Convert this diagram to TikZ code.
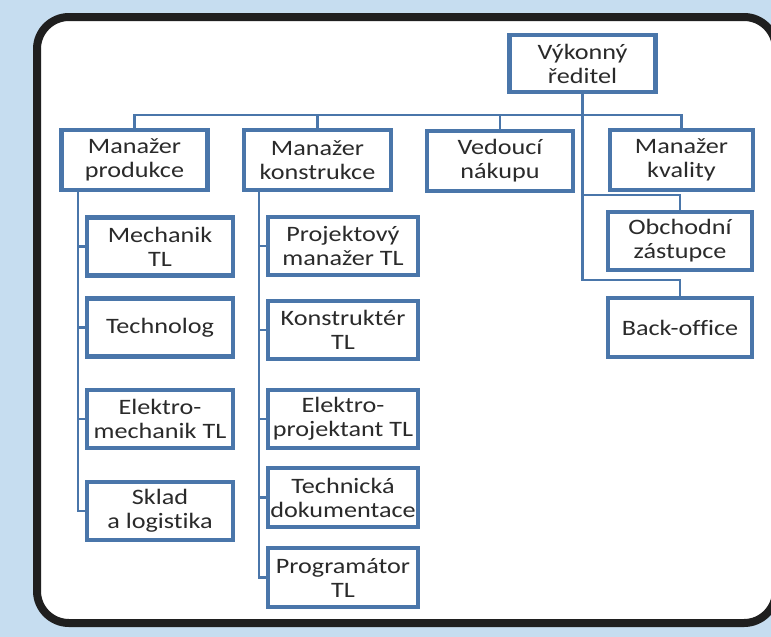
\documentclass[tikz,border=0pt]{standalone}
\usepackage{fontspec}
\setmainfont{Carlito}[FakeStretch=1.19, Ligatures=NoCommon]
\usepackage{xcolor}
\usetikzlibrary{positioning, calc}

\definecolor{bgblue}{RGB}{198,221,240}
\definecolor{boxblue}{RGB}{74,118,170}
\definecolor{txtgray}{RGB}{42,42,42}

\begin{document}
\begin{tikzpicture}[
    x=1pt, y=-1pt,
    font=\fontsize{22}{24}\selectfont,
    topbox/.style={draw=boxblue, line width=4.5pt, fill=white, rectangle, minimum width=146pt, minimum height=60pt, inner sep=0pt, align=center, text=txtgray},
    subbox/.style={draw=boxblue, line width=4.5pt, fill=white, rectangle, minimum width=146pt, minimum height=58pt, inner sep=0pt, align=center, text=txtgray},
    link/.style={draw=boxblue, line width=2.5pt}
]

\useasboundingbox (0,0) rectangle (771,637);
\fill[bgblue] (0,0) rectangle (771,637);
\draw[line width=8pt, fill=white, draw=black!88, rounded corners=32pt] (37,17) rectangle (776,623);

\coordinate (hub) at (582.5,115);
\coordinate (pspine) at (78,190);
\coordinate (kspine) at (259,190);

\draw[link] (hub) -| (134.5,130);
\draw[link] (hub) -| (317.5,130);
\draw[link] (hub) -| (500,130);
\draw[link] (hub) -| (681.5,130);
\draw[link] (582.5,92) -- (582.5,280) -| (680,298);
\draw[link] (582.5,195) -| (680,212);

\node[topbox, minimum height=57pt] (ceo) at (582.5,63.5) {Výkonný\\ředitel};

\node[topbox] (prod) at (134.5,160) {Manažer\\produkce};
\node[topbox, minimum width=147pt] (kons) at (317.5,160) {Manažer\\konstrukce};
\node[topbox] (nakup) at (500,161) {Vedoucí\\nákupu};
\node[topbox, minimum width=143pt] (kval) at (681.5,160) {Manažer\\kvality};

\node[subbox] (mech) at (160,246.5) {Mechanik\\TL};
\node[subbox] (tech) at (160,327.5) {Technolog};
\node[subbox] (elmech) at (160,419) {Elektro-\\mechanik TL};
\node[subbox] (sklad) at (160,511) {Sklad\\a logistika};

\node[subbox, minimum width=150pt] (proj) at (343,246) {Projektový\\manažer TL};
\node[subbox, minimum width=150pt] (konstr) at (343,330) {Konstruktér\\TL};
\node[subbox, minimum width=150pt] (elproj) at (343,419) {Elektro-\\projektant TL};
\node[subbox, minimum width=150pt, minimum height=59pt] (techdok) at (343,497.5) {Technická\\dokumentace};
\node[subbox, minimum width=150pt, minimum height=59pt] (prog) at (343,577.5) {Programátor\\TL};

\node[subbox, minimum width=144pt] (obch) at (680,241) {Obchodní\\zástupce};
\node[subbox, minimum width=144pt, minimum height=59pt] (back) at (680,327.5) {Back-office};

\foreach \n in {mech,tech,elmech,sklad}
  \draw[link] (pspine) |- (\n.west);
\foreach \n in {proj,konstr,elproj,techdok,prog}
  \draw[link] (kspine) |- (\n.west);

\end{tikzpicture}
\end{document}
